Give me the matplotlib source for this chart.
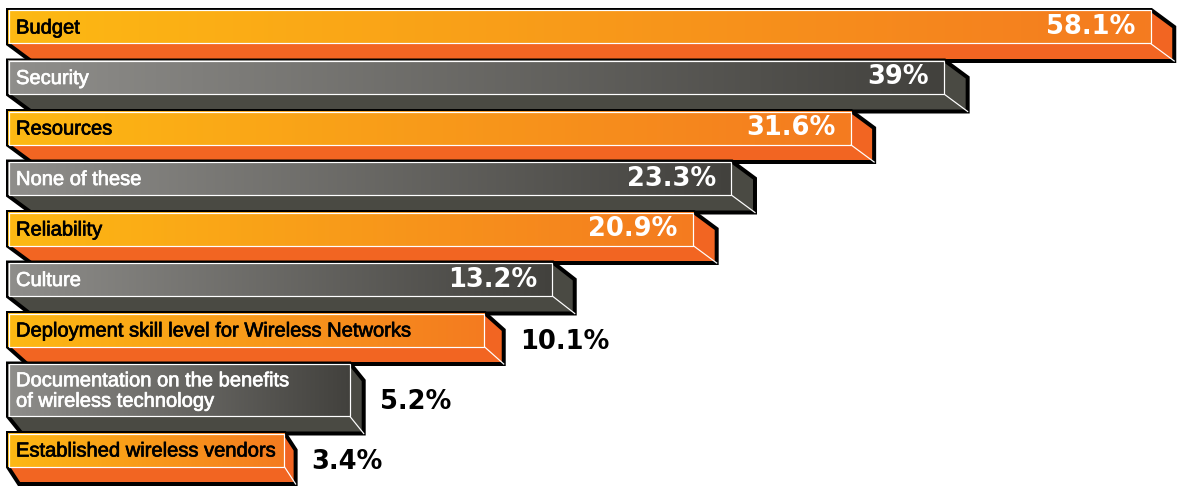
import numpy as np
import matplotlib
matplotlib.use("Agg")
import matplotlib.pyplot as plt
import matplotlib.patheffects as pe
from matplotlib.patches import Polygon, Rectangle
from matplotlib.colors import LinearSegmentedColormap

# chart data
labels = ["Budget", "Security", "Resources", "None of these", "Reliability", "Culture",
          "Deployment skill level for Wireless Networks",
          "Documentation on the benefits\nof wireless technology",
          "Established wireless vendors"]
values = [58.1, 39, 31.6, 23.3, 20.9, 13.2, 10.1, 5.2, 3.4]
value_labels = ["58.1%", "39%", "31.6%", "23.3%", "20.9%", "13.2%", "10.1%", "5.2%", "3.4%"]

W, H = 1189, 486
LEFT = 8            # left edge of the bars (px)
XMAX = 62.0         # end of the square-root value axis
TOP = 10
DY = 17             # depth of the 3D extrusion (px)
GAP = 16.5
LINE_H = 34
EXTRA_LINE = 19

orange = ("#fdb913", "#f47b20", "#f26522")
grey = ("#8f8e8b", "#42413d", "#4a4a43")

fig = plt.figure(figsize=(W / 100, H / 100), dpi=100)

# value axis (square-root scale, as in the original artwork)
ax = fig.add_axes([LEFT / W, 0, 1 - LEFT / W, 1])
ax.set_xscale("function", functions=(lambda x: np.sqrt(np.clip(x, 0, None)), np.square))
ax.set_xlim(0, XMAX)
ax.set_ylim(H, 0)
ax.axis("off")

# pixel overlay to draw the 3D boxes
px = fig.add_axes([0, 0, 1, 1])
px.set_xlim(0, W)
px.set_ylim(H, 0)
px.axis("off")

renderer = fig.canvas.get_renderer()
lw_out = 4 * 72 / 100
lw_white = 1.2 * 72 / 100

top = TOP
for i, (lab, val, vtxt) in enumerate(zip(labels, values, value_labels)):
    c_left, c_right, c_side = orange if i % 2 == 0 else grey
    txt_color = "black" if i % 2 == 0 else "white"
    h = LINE_H + EXTRA_LINE * lab.count("\n")
    x0 = LEFT
    x1 = ax.transData.transform((val, 0))[0]
    dx = min(23, 0.04 * (x1 - x0))
    z = 10 + i * 5

    # silhouette with black outline, filled with side colour
    sil = [(x0, top), (x1, top), (x1 + dx, top + DY), (x1 + dx, top + h + DY),
           (x0 + dx, top + h + DY), (x0, top + h)]
    px.add_patch(Polygon(sil, closed=True, facecolor=c_side, edgecolor="black",
                         linewidth=lw_out, joinstyle="miter", zorder=z))

    # front face with horizontal gradient
    front = Rectangle((x0, top), x1 - x0, h, facecolor="none", edgecolor="none", zorder=z + 1)
    px.add_patch(front)
    cmap = LinearSegmentedColormap.from_list("g%d" % i, [c_left, c_right])
    im = px.imshow(np.linspace(0, 1, 256)[None, :], extent=(x0, x1, top + h, top),
                   cmap=cmap, aspect="auto", interpolation="bilinear", zorder=z + 1)
    im.set_clip_path(front)

    # white highlight edges
    px.add_patch(Rectangle((x0 + 0.5, top + 0.5), x1 - x0 - 1, h - 1, facecolor="none",
                           edgecolor="white", linewidth=lw_white, zorder=z + 2))
    px.plot([x1, x1 + dx], [top + h, top + h + DY], color="white", lw=lw_white, zorder=z + 2)

    # category label
    t = px.text(x0 + 8, top + h / 2 + 1, lab, ha="left", va="center", fontsize=14.5,
                family="Liberation Sans", color=txt_color, linespacing=1.1, zorder=z + 3,
                path_effects=[pe.withStroke(linewidth=0.5, foreground=txt_color)])
    lab_w = t.get_window_extent(renderer).width

    # value label, inside the bar when there is room
    v = px.text(0, 0, vtxt, fontsize=18.5, fontweight="bold", family="DejaVu Sans",
                va="center", zorder=z + 3)
    val_w = v.get_window_extent(renderer).width
    if (x1 - x0) - 8 - lab_w > val_w + 40:
        v.set_position((x1 - 16, top + h / 2))
        v.set_ha("right")
        v.set_color("white")
    else:
        v.set_position((x1 + dx + 16, top + (h + DY) / 2 + 3))
        v.set_ha("left")
        v.set_color("black")

    top += h + GAP

fig.savefig("out.png", dpi=100)
